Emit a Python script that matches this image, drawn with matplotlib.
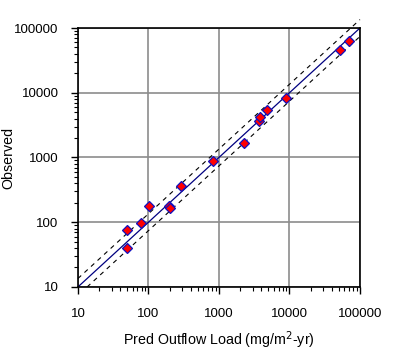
import numpy as np
import matplotlib
matplotlib.use('Agg')
import matplotlib.pyplot as plt
from matplotlib.ticker import LogLocator, FixedLocator

plt.rcParams['font.family'] = ['Liberation Sans', 'DejaVu Sans']

# predicted vs observed outflow load (mg/m2-yr)
pred = [49, 50, 79, 102, 198, 205, 290, 830, 2290, 3700, 3800, 4850, 9000, 52600, 70500]
obs = [40, 75, 96, 180, 178, 168, 360, 870, 1700, 3600, 4200, 5350, 8200, 45300, 63700]
band = 1.35  # dashed band factor around 1:1 line
ticks = [10, 100, 1000, 10000, 100000]
tick_labels = ['10', '100', '1000', '10000', '100000']

fig = plt.figure(figsize=(4.1, 3.59), dpi=100)
ax = fig.add_axes([0.190, 0.2006, 0.688, 0.7214])
ax.set_xscale('log')
ax.set_yscale('log')
ax.set_xlim(10, 100000)
ax.set_ylim(10, 100000)

ax.grid(True, which='major', color='#8c8c8c', linewidth=1.2)
ax.set_axisbelow(True)

lo, hi = 10, 100000
ax.plot([lo, hi], [lo, hi], color='#000080', linewidth=0.9, zorder=2)
ax.plot([lo, hi], [lo * band, hi * band], color='black', linestyle=(0, (4, 4)),
        linewidth=0.8, clip_on=False, zorder=2)
ax.plot([lo * band, hi], [lo, hi / band], color='black', linestyle=(0, (4, 4)),
        linewidth=0.8, zorder=2)

ax.plot(pred, obs, linestyle='none', marker='D', markersize=5.6,
        markerfacecolor='red', markeredgecolor='#1010c0', markeredgewidth=0.9, zorder=3)

ax.xaxis.set_major_locator(FixedLocator(ticks))
ax.yaxis.set_major_locator(FixedLocator(ticks))
ax.set_xticklabels(tick_labels)
ax.set_yticklabels(tick_labels)
ax.xaxis.set_minor_locator(LogLocator(base=10, subs=np.arange(2, 10)))
ax.yaxis.set_minor_locator(LogLocator(base=10, subs=np.arange(2, 10)))
ax.xaxis.set_minor_formatter(plt.NullFormatter())
ax.yaxis.set_minor_formatter(plt.NullFormatter())

ax.tick_params(which='major', direction='out', length=5, width=1, labelsize=9.5, color='black')
ax.tick_params(which='minor', direction='out', length=3, width=0.8, color='black')
ax.tick_params(axis='x', pad=10)
ax.tick_params(axis='y', pad=9)
for s in ax.spines.values():
    s.set_color('black')
    s.set_linewidth(1.2)

ax.set_xlabel('Pred Outflow Load (mg/m$^2$-yr)', fontsize=10.3, labelpad=7)
ax.set_ylabel('Observed', fontsize=10.3)
ax.yaxis.set_label_coords(-0.223, 0.5)

fig.savefig('out.png', dpi=100)
